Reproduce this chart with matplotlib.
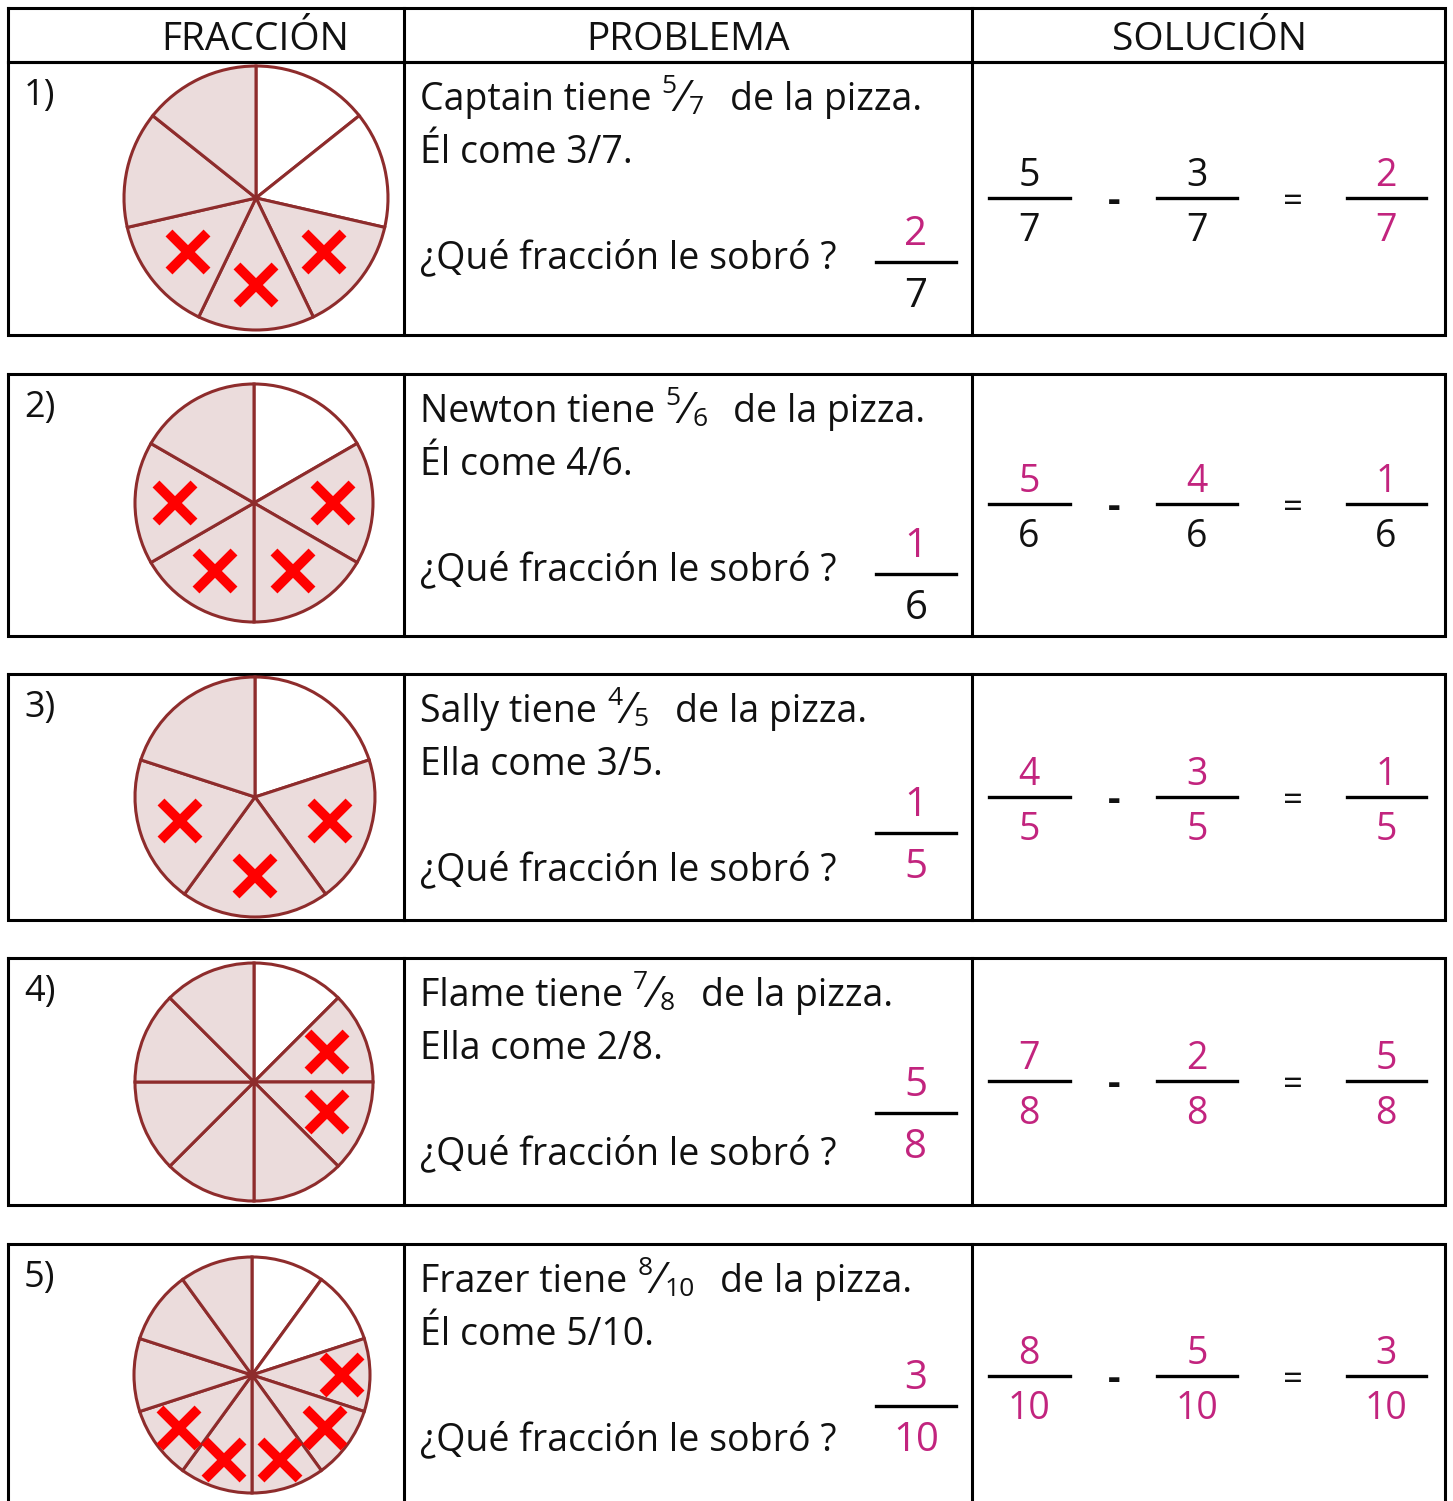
import numpy as np
import matplotlib
matplotlib.use("Agg")
import matplotlib.pyplot as plt

plt.rcParams['font.family'] = ['Open Sans', 'DejaVu Sans']

W, H = 1453, 1501

# data
labels = ["1)", "2)", "3)", "4)", "5)"]
names = ["Captain", "Newton", "Sally", "Flame", "Frazer"]
pronouns = ["Él", "Él", "Ella", "Ella", "Él"]
have = [5, 5, 4, 7, 8]
slices = [7, 6, 5, 8, 10]
eaten = [3, 4, 3, 2, 5]
leftover = [2, 1, 1, 5, 3]
headers = ["FRACCIÓN", "PROBLEMA", "SOLUCIÓN"]
# 1 = pink digit, 0 = black digit
answer_pink = [(1, 0), (1, 0), (1, 1), (1, 1), (1, 1)]
solution_pink = [(0, 0, 0, 0, 1, 1), (1, 0, 1, 0, 1, 0), (1, 1, 1, 1, 1, 1),
                 (1, 1, 1, 1, 1, 1), (1, 1, 1, 1, 1, 1)]

# layout (pixels)
row_top = [62, 374, 674, 958, 1244]
row_bot = [335, 636, 920, 1205, 1520]
pie_pos = [(256, 198, 132), (254, 503, 119), (255, 797, 120), (254, 1082, 119), (252, 1375, 118)]
ans_bar = [262, 574, 833, 1113, 1406]
sol_bar = [198, 504, 797, 1081, 1376]

INK = "#111111"
PINK = "#c2247e"
SHADE = "#ebdcdc"
EDGE = "#8e2c2c"

fig = plt.figure(figsize=(W / 100, H / 100), dpi=100)
ax = fig.add_axes([0, 0, 1, 1])
ax.set_xlim(0, W)
ax.set_ylim(H, 0)
ax.axis("off")
rend = fig.canvas.get_renderer()


def box(top, bot):
    ax.plot([8, 1445, 1445, 8, 8], [top, top, bot, bot, top], color="black", lw=2.2,
            solid_joinstyle="miter")
    for xv in (404, 972):
        ax.plot([xv, xv], [top, bot], color="black", lw=2.2)


def chain(x, y, parts):
    # parts: text, size, vertical shift, gap after
    for s, size, dy, gap in parts:
        t = ax.text(x, y + dy, s, fontsize=size, va="baseline", ha="left", color=INK)
        bb = t.get_window_extent(renderer=rend)
        x += bb.width + gap


def frac(xc, bar_y, num, den, cols, size, x0, x1, dn, dd):
    ax.plot([x0, x1], [bar_y, bar_y], color="black", lw=2.4)
    ax.text(xc, bar_y + dn, str(num), fontsize=size, ha="center", va="baseline",
            color=PINK if cols[0] else INK)
    ax.text(xc, bar_y + dd, str(den), fontsize=size, ha="center", va="baseline",
            color=PINK if cols[1] else INK)


# header row
box(8, 62)
for txt, xc in zip(headers, [255, 688, 1210]):
    ax.text(xc, 50, txt, fontsize=28, ha="center", va="baseline", color=INK)

for i in range(5):
    top = row_top[i]
    box(top, row_bot[i])
    ax.text(24, top + 43, labels[i], fontsize=26, va="baseline", ha="left", color=INK)

    # problem text
    chain(420, top + 48, [(names[i] + " tiene", 27, 0, 10),
                          (str(have[i]), 19, -17, 3),
                          ("\u2044", 32, 1, 3),
                          (str(slices[i]), 19, 4, 26),
                          ("de la pizza.", 27, 0, 0)])
    chain(420, top + 101, [(f"{pronouns[i]} come {eaten[i]}/{slices[i]}.", 27, 0, 0)])
    chain(420, top + 206, [("¿Qué fracción le sobró ?", 27, 0, 0)])
    frac(916, ans_bar[i], leftover[i], slices[i], answer_pink[i], 29, 876, 956, -17, 45)

    # solution
    sp = solution_pink[i]
    b = sol_bar[i]
    frac(1029, b, have[i], slices[i], sp[0:2], 27, 989, 1070, -12, 43)
    frac(1197, b, eaten[i], slices[i], sp[2:4], 27, 1157, 1237, -12, 43)
    frac(1386, b, leftover[i], slices[i], sp[4:6], 27, 1347, 1426, -12, 43)
    ax.text(1114, b + 14, "-", fontsize=28, fontweight="bold", ha="center", va="baseline", color=INK)
    ax.text(1293, b + 14, "=", fontsize=25, ha="center", va="baseline", color=INK)

    # pie
    cx, cy, r = pie_pos[i]
    R = r * 1.1
    pax = fig.add_axes([(cx - R) / W, 1 - (cy + R) / H, 2 * R / W, 2 * R / H])
    n = slices[i]
    cols = ["white"] * (n - have[i]) + [SHADE] * have[i]
    pax.pie([1] * n, colors=cols, startangle=90, counterclock=False,
            wedgeprops=dict(edgecolor=EDGE, linewidth=2.2))
    pax.set_xlim(-1.1, 1.1)
    pax.set_ylim(-1.1, 1.1)
    pax.axis("off")
    rad = 0.66 if n < 10 else 0.76
    for k in range(n - have[i], n - have[i] + eaten[i]):
        ang = np.deg2rad(90 - (k + 0.5) * 360 / n)
        pax.plot(rad * np.cos(ang), rad * np.sin(ang), marker="x", ms=27, mew=7,
                 color="#ff0000", clip_on=False)

fig.savefig("out.png", dpi=100)
